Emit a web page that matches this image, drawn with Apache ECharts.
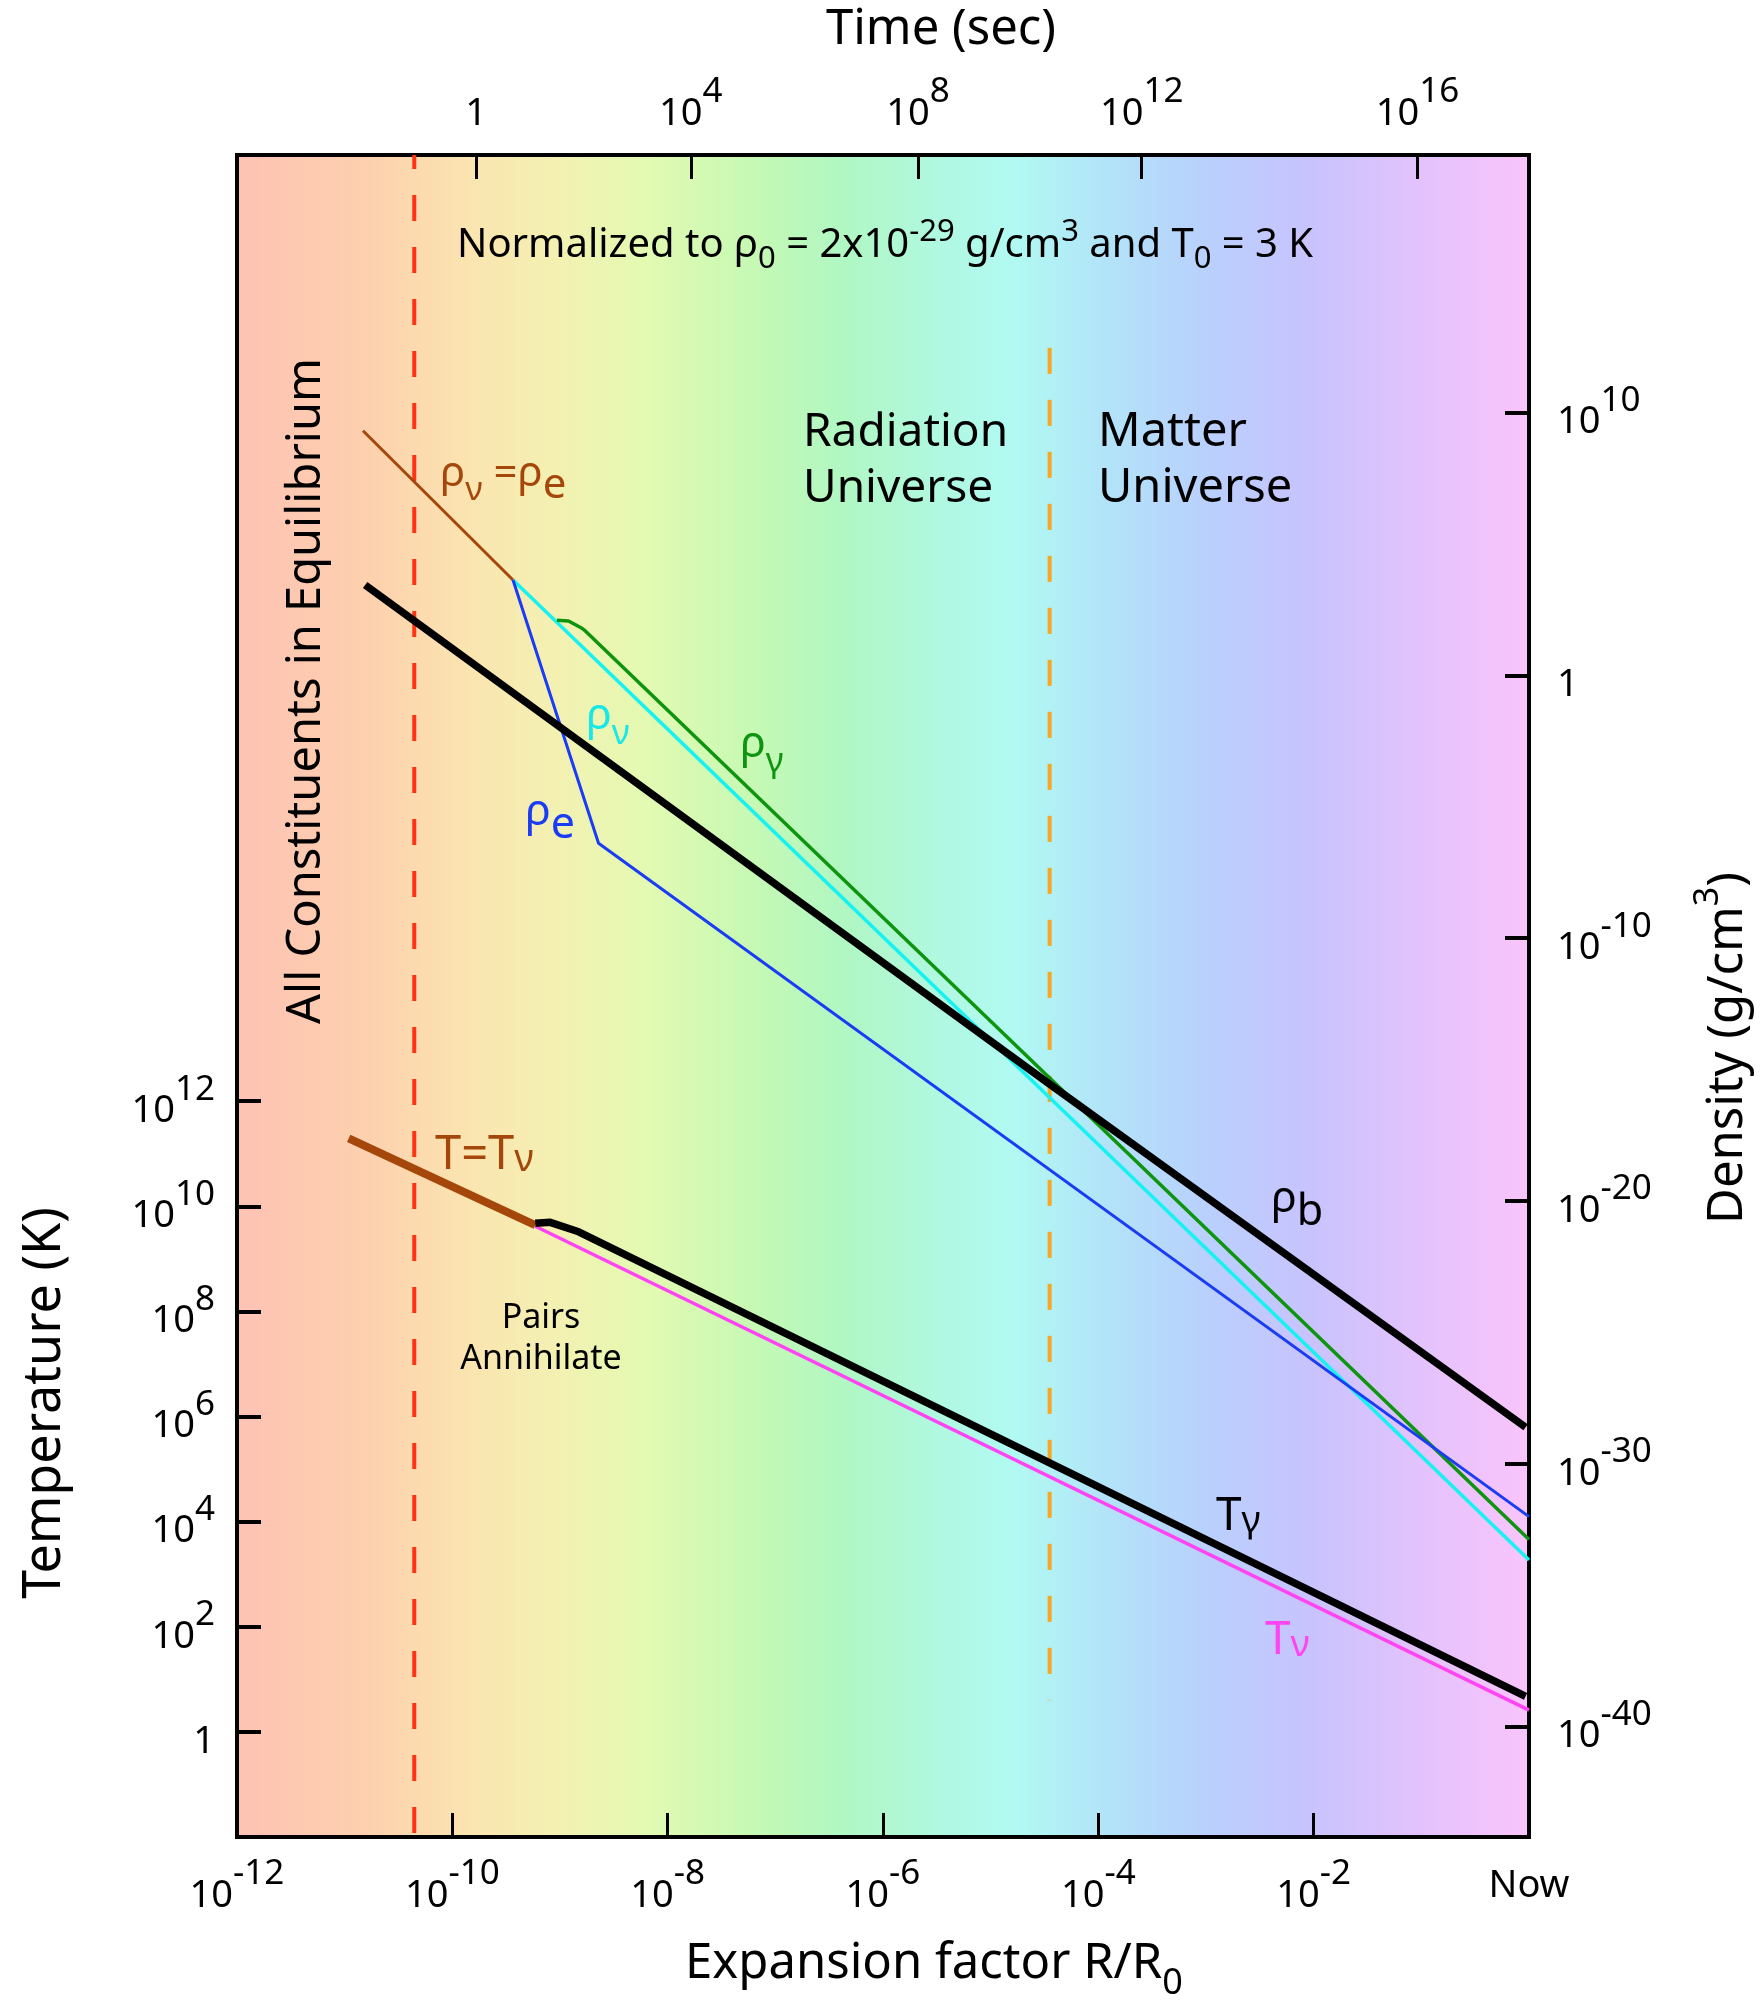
<!DOCTYPE html>
<html><head><meta charset="utf-8">
<script src="https://cdn.jsdelivr.net/npm/echarts@6/dist/echarts.min.js"></script>
<style>html,body{margin:0;padding:0;background:#fff}#c{width:1764px;height:2007px}</style>
</head><body><div id="c"></div>
<script>
// ---------- data ----------
const xLabelValues = [1e-12, 1e-10, 1e-8, 1e-6, 1e-4, 1e-2, 1];
const xTickValues = [1e-10, 1e-8, 1e-6, 1e-4, 1e-2];
const timeLabels = ['1', '10^4', '10^8', '10^12', '10^16'];
const timeTickR = [1.66e-10, 1.64e-8, 2.11e-6, 2.53e-4, 9.2e-2];
const tempTicks = [1, 1e2, 1e4, 1e6, 1e8, 1e10, 1e12];
const densTicks = [1e10, 1, 1e-10, 1e-20, 1e-30, 1e-40];

// density curves [R/R0, g/cm3]
const rhoNuEqE = [[1.48e-11, 2.04e9], [3.66e-10, 4.27e3]];
const rhoNu = [[3.66e-10, 4.27e3], [1, 2.19e-34]];
const rhoGamma = [[9.35e-10, 1.26e2], [1.2e-9, 1.17e2], [1.6e-9, 61.7], [1.71e-9, 50.0], [1, 1.32e-33]];
const rhoE = [[3.66e-10, 4.27e3], [2.28e-9, 4.07e-7], [1, 9.77e-33]];
const rhoB = [[1.55e-11, 2.75e3], [3.53e-5, 2.8e-16], [0.93, 2.45e-29]];
// temperature curves [R/R0, K]
const tEq = [[1.09e-11, 1.95e11], [5.89e-10, 4.37e9]];
const tGamma = [[5.89e-10, 4.73e9], [8.11e-10, 4.94e9], [1.49e-9, 3.27e9], [0.93, 4.72]];
const tNu = [[5.89e-10, 4.17e9], [1, 2.6]];
// era markers
const redDash = [[4.43e-11, Math.pow(10, 19.8)], [4.43e-11, Math.pow(10, -44.2)]];
const orangeDash = [[3.53e-5, 2.9e12], [3.53e-5, 1e-39]];

// ---------- styling ----------
const FF = 'Noto Sans';
const richPow = {
  b: {fontSize: 38, lineHeight: 58, verticalAlign: 'bottom', fontFamily: FF, color: '#000'},
  s: {fontSize: 35, lineHeight: 34, verticalAlign: 'top', fontFamily: FF, color: '#000'},
  n: {fontSize: 38, lineHeight: 58, fontFamily: FF, color: '#000'}
};
function powLabel(v) {
  const e = Math.round(Math.log10(v));
  if (e === 0) return '{b|1}';
  return '{b|10}{s|' + e + '}';
}
function timeLabel(v) {
  let idx = 0, best = 1e9;
  timeTickR.forEach((r, i) => { const d = Math.abs(Math.log10(r) - Math.log10(v)); if (d < best) { best = d; idx = i; } });
  const t = timeLabels[idx];
  if (t.indexOf('^') < 0) return '{b|' + t + '}';
  const p = t.split('^');
  return '{b|' + p[0] + '}{s|' + p[1] + '}';
}
const bg = {type: 'linear', x: 0, y: 0, x2: 1, y2: 0, colorStops: [
  {offset: 0.00, color: '#FEC2B4'}, {offset: 0.10, color: '#FDD0AE'}, {offset: 0.18, color: '#FBE4B0'},
  {offset: 0.25, color: '#F3F1B2'}, {offset: 0.32, color: '#E2FAB2'}, {offset: 0.40, color: '#C6F9B4'},
  {offset: 0.47, color: '#B0F7C3'}, {offset: 0.54, color: '#B0F8DF'}, {offset: 0.60, color: '#B1FAF2'},
  {offset: 0.67, color: '#B2E4F8'}, {offset: 0.75, color: '#B9D0FD'}, {offset: 0.83, color: '#C8C3FD'},
  {offset: 0.91, color: '#E2C2FC'}, {offset: 1.00, color: '#FAC4FC'}]};

function line(name, data, yIdx, color, width, extra) {
  return Object.assign({
    name: name, type: 'line', xAxisIndex: 0, yAxisIndex: yIdx, data: data,
    showSymbol: false, symbol: 'none', silent: true, animation: false,
    lineStyle: {color: color, width: width}
  }, extra || {});
}
function txt(x, y, text, size, color, opts) {
  opts = opts || {};
  return {
    type: 'text', x: x, y: y, rotation: opts.rot || 0, z: 100,
    style: Object.assign({text: text, fontSize: size, fontFamily: FF, fill: color || '#000',
      align: opts.align || 'left', verticalAlign: opts.va || 'middle', rich: opts.rich}, opts.style || {})
  };
}
const grk = (c, s) => ({
  g: {fontSize: s, fontFamily: FF, color: c, lineHeight: s * 1.3, verticalAlign: 'top'},
  u: {fontSize: s * 0.8, fontFamily: FF, color: c, lineHeight: s * 1.3, verticalAlign: 'bottom'},
  e: {fontSize: s, fontFamily: FF, color: c, lineHeight: s * 1.3, verticalAlign: 'bottom'}
});

const chart = echarts.init(document.getElementById('c'), null, {renderer: 'canvas'});
chart.setOption({
  animation: false,
  backgroundColor: '#fff',
  grid: {left: 237, right: 235, top: 155, bottom: 170, show: true, borderColor: '#000', borderWidth: 4, backgroundColor: bg, z: 0},
  xAxis: [
    {type: 'log', logBase: 10, min: 1e-12, max: 1, position: 'bottom',
     axisLine: {show: false}, splitLine: {show: false}, minorTick: {show: false},
     axisTick: {show: true, inside: true, length: 24, customValues: xTickValues, lineStyle: {color: '#000', width: 3}},
     axisLabel: {show: true, customValues: xLabelValues, margin: 20,
       formatter: v => (Math.abs(Math.log10(v)) < 1e-6 ? '{n|Now}' : powLabel(v)), rich: richPow}},
    {type: 'log', logBase: 10, min: 1e-12, max: 1, position: 'top',
     axisLine: {show: false}, splitLine: {show: false}, minorTick: {show: false},
     axisTick: {show: true, inside: true, length: 24, customValues: timeTickR, lineStyle: {color: '#000', width: 3}},
     axisLabel: {show: true, customValues: timeTickR, margin: 22, formatter: timeLabel, rich: richPow}}
  ],
  yAxis: [
    {type: 'log', logBase: 10, min: 1e-2, max: 1e30, position: 'left',
     axisLine: {show: false}, splitLine: {show: false}, minorTick: {show: false},
     axisTick: {show: true, inside: true, length: 24, customValues: tempTicks, lineStyle: {color: '#000', width: 4}},
     axisLabel: {show: true, customValues: tempTicks, margin: 22, formatter: powLabel, rich: richPow}},
    {type: 'log', logBase: 10, min: Math.pow(10, -44.2), max: Math.pow(10, 19.8), position: 'right',
     axisLine: {show: false}, splitLine: {show: false}, minorTick: {show: false},
     axisTick: {show: true, inside: true, length: 24, customValues: densTicks, lineStyle: {color: '#000', width: 4}},
     axisLabel: {show: true, customValues: densTicks, margin: 28, formatter: powLabel, rich: richPow}}
  ],
  series: [
    line('redDash', redDash, 1, '#FF3311', 4, {lineStyle: {color: '#FF3311', width: 4, type: [26, 26], dashOffset: 12}}),
    line('orangeDash', orangeDash, 1, '#F5A623', 4, {lineStyle: {color: '#F5A623', width: 4, type: [26, 26]}}),
    line('rhoNuEqE', rhoNuEqE, 1, '#A5470A', 3),
    line('rhoNu', rhoNu, 1, '#16F2F2', 3.5),
    line('rhoGamma', rhoGamma, 1, '#0E940E', 3.5),
    line('rhoE', rhoE, 1, '#1A3CF5', 3),
    line('rhoB', rhoB, 1, '#000000', 7.5),
    line('tNu', tNu, 0, '#FF44F4', 3.5),
    line('tEq', tEq, 0, '#A5470A', 8),
    line('tGamma', tGamma, 0, '#000000', 7.5)
  ],
  graphic: [
    txt(941, 30, 'Time (sec)', 49, '#000', {align: 'center'}),
    txt(934, 1971, '{a|Expansion factor R/R}{b|0}', 49, '#000', {align: 'center',
      rich: {a: {fontSize: 49, fontFamily: FF, lineHeight: 62, verticalAlign: 'top'}, b: {fontSize: 36, fontFamily: FF, lineHeight: 62, verticalAlign: 'bottom'}}}),
    txt(45, 1403, 'Temperature (K)', 52, '#000', {align: 'center', rot: Math.PI / 2}),
    txt(1722, 1048, '{a|Density (g/cm}{b|3}{a|)}', 49, '#000', {align: 'center', rot: Math.PI / 2,
      rich: {a: {fontSize: 49, fontFamily: FF, lineHeight: 62, verticalAlign: 'bottom'}, b: {fontSize: 34, fontFamily: FF, lineHeight: 42, verticalAlign: 'top'}}}),
    txt(307, 691, 'All Constituents in Equilibrium', 47, '#000', {align: 'center', rot: Math.PI / 2}),
    txt(457, 246, '{a|Normalized to ρ}{d|0}{a| = 2x10}{u|-29}{a| g/cm}{u|3}{a| and T}{d|0}{a| = 3 K}', 40, '#000', {
      rich: {a: {fontSize: 40, fontFamily: FF, lineHeight: 58}, u: {fontSize: 31, fontFamily: FF, lineHeight: 32, verticalAlign: 'top'},
             d: {fontSize: 31, fontFamily: FF, lineHeight: 32, verticalAlign: 'bottom'}}}),
    txt(803, 433, 'Radiation', 46), txt(803, 489, 'Universe', 46),
    txt(1098, 433, 'Matter', 47), txt(1098, 489, 'Universe', 47),
    txt(440, 480, '{g|ρ}{u|ν}{g| =ρ}{e|e}', 42, '#A5470A', {rich: grk('#A5470A', 42)}),
    txt(586, 723, '{g|ρ}{u|ν}', 43, '#16E8E8', {rich: grk('#16E8E8', 43)}),
    txt(740, 751, '{g|ρ}{u|γ}', 43, '#0E940E', {rich: grk('#0E940E', 43)}),
    txt(525, 819, '{g|ρ}{e|e}', 43, '#1A3CF5', {rich: grk('#1A3CF5', 43)}),
    txt(1271, 1206, '{g|ρ}{e|b}', 43, '#000', {rich: grk('#000', 43)}),
    txt(435, 1149, '{e|T=T}{u|ν}', 47, '#A5470A', {rich: grk('#A5470A', 47)}),
    txt(541, 1318, 'Pairs', 34, '#000', {align: 'center'}),
    txt(541, 1359, 'Annihilate', 34, '#000', {align: 'center'}),
    txt(1216, 1510, '{e|T}{u|γ}', 46, '#000', {rich: grk('#000', 46)}),
    txt(1265, 1634, '{e|T}{u|ν}', 46, '#FF44F4', {rich: grk('#FF44F4', 46)})
  ]
});
</script></body></html>
